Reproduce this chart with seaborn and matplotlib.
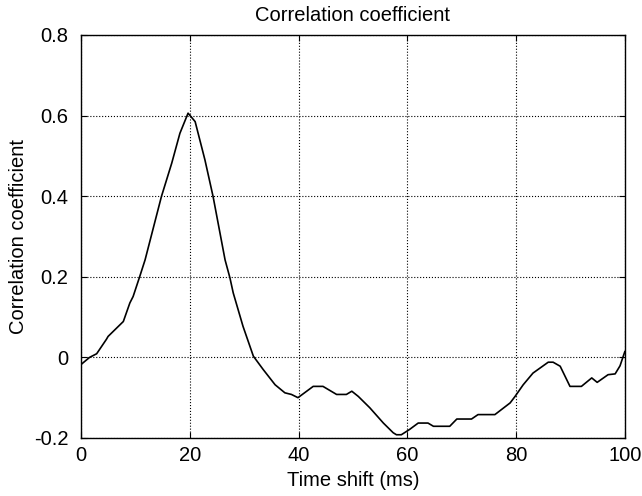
import numpy as np
import pandas as pd
import matplotlib
matplotlib.use("Agg")
import matplotlib.pyplot as plt
import seaborn as sns

# values
time_shift = [0, 1.6, 2.9, 4.7, 5.0, 7.8, 9.0, 9.6, 10.8, 11.8, 14.8, 16.7, 18.2, 19.7,
              21.0, 22.8, 24.3, 26.5, 27.4, 28.0, 29.8, 31.7, 33.5, 35.7, 37.5, 38.7,
              39.9, 41.5, 42.7, 44.5, 47.0, 48.8, 49.8, 51.0, 53.1, 55.6, 57.4, 58.0,
              58.9, 60.4, 62.0, 63.8, 64.8, 67.8, 69.1, 71.8, 73.0, 76.1, 78.9, 79.8,
              81.3, 83.1, 85.9, 86.8, 88.1, 89.9, 92.0, 93.9, 94.9, 96.9, 98.2, 99.1, 100]
corr = [-0.018, 0.0, 0.009, 0.045, 0.052, 0.089, 0.135, 0.151, 0.2, 0.242, 0.399, 0.482,
        0.556, 0.606, 0.585, 0.49, 0.399, 0.242, 0.197, 0.16, 0.077, 0.003, -0.03, -0.068,
        -0.088, -0.092, -0.1, -0.084, -0.072, -0.072, -0.092, -0.092, -0.084, -0.097,
        -0.125, -0.163, -0.187, -0.192, -0.192, -0.179, -0.163, -0.163, -0.171, -0.171,
        -0.153, -0.153, -0.142, -0.142, -0.113, -0.097, -0.068, -0.039, -0.012, -0.012,
        -0.022, -0.072, -0.072, -0.051, -0.062, -0.043, -0.041, -0.021, 0.015]

x_ticks = [0, 20, 40, 60, 80, 100]
y_ticks = [-0.2, 0, 0.2, 0.4, 0.6, 0.8]
y_tick_labels = ["-0.2", "0", "0.2", "0.4", "0.6", "0.8"]

df = pd.DataFrame({"Time shift (ms)": time_shift, "Correlation coefficient": corr})

sns.set_style("ticks")
plt.rcParams["font.family"] = ["Liberation Sans", "DejaVu Sans"]
plt.rcParams["text.color"] = "black"
plt.rcParams["axes.labelcolor"] = "black"

fig = plt.figure(figsize=(6.42, 4.96), dpi=100)
ax = fig.add_axes([0.126, 0.117, 0.8474, 0.8125])

sns.lineplot(data=df, x="Time shift (ms)", y="Correlation coefficient",
             color="black", linewidth=1.2, ax=ax)

ax.set_xlim(0, 100)
ax.set_ylim(-0.2, 0.8)
ax.set_xticks(x_ticks)
ax.set_yticks(y_ticks)
ax.set_yticklabels(y_tick_labels)
ax.grid(True, linestyle=":", color="black", linewidth=0.8)
ax.tick_params(direction="in", length=4, labelsize=14.5, top=True, right=True,
               color="black", labelcolor="black")
ax.tick_params(axis="y", pad=9)
ax.tick_params(axis="x", pad=6)
for s in ax.spines.values():
    s.set_visible(True)
    s.set_color("black")
    s.set_linewidth(1.0)

ax.set_title("Correlation coefficient", fontsize=14.5, pad=10, color="black")
ax.set_xlabel("Time shift (ms)", fontsize=14.5, labelpad=4, color="black")
ax.set_ylabel("Correlation coefficient", fontsize=14.5, labelpad=4, color="black")

fig.savefig("out.png", dpi=100)
